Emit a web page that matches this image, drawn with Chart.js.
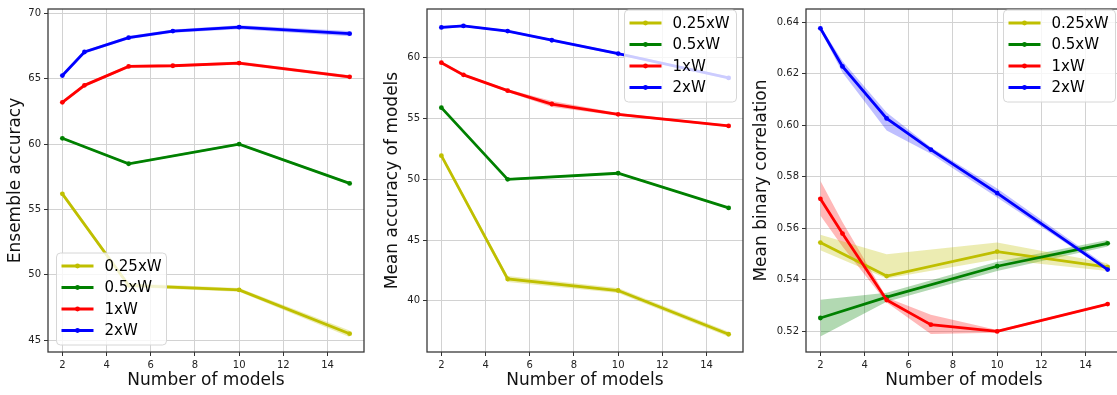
<!DOCTYPE html>
<html>
<head>
<meta charset="utf-8">
<script src="https://cdn.jsdelivr.net/npm/chart.js@4.4.1/dist/chart.umd.min.js"></script>
<style>
html,body{margin:0;padding:0;background:#fff;overflow:hidden;width:1117px;height:395px;}
canvas{position:absolute;top:0;}
</style>
</head>
<body>
<canvas id="c1" width="368" height="395" style="left:0px"></canvas>
<canvas id="c2" width="375" height="395" style="left:372px"></canvas>
<canvas id="c3" width="381" height="395" style="left:745px"></canvas>
<script>
// ---------- data ----------
const seriesNames = ['0.25xW', '0.5xW', '1xW', '2xW'];
const xTicks = [2, 4, 6, 8, 10, 12, 14];
const xFew = [2, 5, 10, 15];
const xMany = [2, 3, 5, 7, 10, 15];

// Panel 1: ensemble accuracy
const ensTicks = [45, 50, 55, 60, 65, 70];
const ens025 = [56.2, 49.2, 48.85, 45.5];
const ens05 = [60.45, 58.5, 60.0, 57.0];
const ens1 = [63.2, 64.5, 65.95, 66.0, 66.2, 65.15];
const ens2 = [65.25, 67.05, 68.15, 68.65, 68.95, 68.45];
const ens025Spread = [0.15, 0.15, 0.15, 0.25];
const ens05Spread = [0.08, 0.08, 0.08, 0.08];
const ens1Spread = [0.1, 0.1, 0.1, 0.1, 0.12, 0.12];
const ens2Spread = [0.1, 0.12, 0.12, 0.12, 0.15, 0.2];

// Panel 2: mean accuracy of models
const accTicks = [40, 45, 50, 55, 60];
const acc025 = [51.95, 41.8, 40.85, 37.25];
const acc05 = [55.9, 50.0, 50.5, 47.65];
const acc1 = [59.6, 58.6, 57.3, 56.2, 55.35, 54.4];
const acc2 = [62.5, 62.63, 62.2, 61.45, 60.35, 58.35];
const acc025Spread = [0.15, 0.25, 0.2, 0.2];
const acc05Spread = [0.08, 0.08, 0.08, 0.08];
const acc1Spread = [0.1, 0.1, 0.12, 0.25, 0.12, 0.1];
const acc2Spread = [0.12, 0.1, 0.1, 0.1, 0.12, 0.12];

// Panel 3: mean binary correlation
const corTicks = [0.52, 0.54, 0.56, 0.58, 0.60, 0.62, 0.64];
const cor025 = [0.5545, 0.5415, 0.551, 0.545];
const cor025Lo = [0.5515, 0.5405, 0.548, 0.5435];
const cor025Hi = [0.5575, 0.5500, 0.5545, 0.5465];
const cor05 = [0.5252, 0.5333, 0.5453, 0.5542];
const cor05Lo = [0.5180, 0.5315, 0.5435, 0.5530];
const cor05Hi = [0.5323, 0.5350, 0.5470, 0.5555];
const cor1 = [0.5715, 0.558, 0.5322, 0.5226, 0.5200, 0.5306];
const cor1Lo = [0.5650, 0.553, 0.5312, 0.5190, 0.5195, 0.5302];
const cor1Hi = [0.5785, 0.5625, 0.5332, 0.5265, 0.5205, 0.5310];
const cor2 = [0.6377, 0.6229, 0.6027, 0.5906, 0.5737, 0.5440];
const cor2Lo = [0.6370, 0.6205, 0.5980, 0.5890, 0.5720, 0.5435];
const cor2Hi = [0.6385, 0.6250, 0.6050, 0.5915, 0.5755, 0.5452];

// ---------- styles ----------
const lineColors = ['rgb(191,191,0)', 'rgb(0,128,0)', 'rgb(255,0,0)', 'rgb(0,0,255)'];
const bandColors = ['rgba(191,191,0,0.3)', 'rgba(0,128,0,0.3)', 'rgba(255,0,0,0.28)', 'rgba(0,0,255,0.25)'];

Chart.defaults.font.family = "'DejaVu Sans', sans-serif";
Chart.defaults.color = '#222';

const pts = (xs, ys) => xs.map((x, i) => ({x: x, y: ys[i]}));

function buildDatasets(series) {
  const lines = [];
  const bands = [];
  for (let k = series.length - 1; k >= 0; k--) {
    const s = series[k];
    lines.push({
      data: pts(s.xs, s.y), borderColor: lineColors[k], backgroundColor: lineColors[k],
      borderWidth: 2.8, pointRadius: 2.4, pointBorderWidth: 0, fill: false, tension: 0, order: 0
    });
  }
  const base = lines.length;
  series.forEach((s, k) => {
    const idx = base + bands.length;
    bands.push({
      data: pts(s.xs, s.hi), borderColor: 'rgba(0,0,0,0)', borderWidth: 0, pointRadius: 0,
      backgroundColor: bandColors[k], fill: idx + 1, tension: 0, order: 5
    });
    bands.push({
      data: pts(s.xs, s.lo), borderColor: 'rgba(0,0,0,0)', borderWidth: 0, pointRadius: 0,
      backgroundColor: bandColors[k], fill: false, tension: 0, order: 5
    });
  });
  return lines.concat(bands);
}

function spreadSeries(xs, y, sp) {
  return {xs: xs, y: y, lo: y.map((v, i) => v - sp[i]), hi: y.map((v, i) => v + sp[i])};
}

const framePlugin = {
  id: 'frame',
  afterDatasetsDraw(chart) {
    const a = chart.chartArea, ctx = chart.ctx;
    ctx.save();
    ctx.strokeStyle = '#3a3a3a';
    ctx.lineWidth = 1.3;
    ctx.strokeRect(a.left, a.top, a.right - a.left, a.bottom - a.top);
    ctx.restore();
  }
};

const legendPlugin = {
  id: 'inlegend',
  afterDraw(chart, args, opts) {
    const ctx = chart.ctx;
    const {x, y, w, h} = opts;
    ctx.save();
    const r = 4;
    ctx.beginPath();
    ctx.moveTo(x + r, y);
    ctx.arcTo(x + w, y, x + w, y + h, r);
    ctx.arcTo(x + w, y + h, x, y + h, r);
    ctx.arcTo(x, y + h, x, y, r);
    ctx.arcTo(x, y, x + w, y, r);
    ctx.closePath();
    ctx.fillStyle = 'rgba(255,255,255,0.8)';
    ctx.fill();
    ctx.strokeStyle = '#d6d6d6';
    ctx.lineWidth = 1;
    ctx.stroke();
    const rows = [13, 34.5, 56, 77.5];
    ctx.font = "15px 'DejaVu Sans', sans-serif";
    ctx.textBaseline = 'middle';
    ctx.textAlign = 'left';
    seriesNames.forEach((name, k) => {
      const cy = y + rows[k];
      ctx.strokeStyle = lineColors[k];
      ctx.lineWidth = 2.8;
      ctx.beginPath();
      ctx.moveTo(x + 5, cy);
      ctx.lineTo(x + 37, cy);
      ctx.stroke();
      ctx.fillStyle = lineColors[k];
      ctx.beginPath();
      ctx.arc(x + 21, cy, 2.4, 0, Math.PI * 2);
      ctx.fill();
      ctx.fillStyle = '#000';
      ctx.fillText(name, x + 48, cy + 1);
    });
    ctx.restore();
  }
};

function makeChart(id, cfg) {
  return new Chart(document.getElementById(id), {
    type: 'line',
    data: {datasets: buildDatasets(cfg.series)},
    plugins: [framePlugin, legendPlugin],
    options: {
      responsive: false,
      animation: false,
      devicePixelRatio: 1,
      layout: {padding: {top: 3, right: 4, left: 0, bottom: 0}},
      plugins: {
        legend: {display: false},
        tooltip: {enabled: false},
        inlegend: cfg.legend
      },
      scales: {
        x: {
          type: 'linear', min: 1.35, max: 15.65,
          afterBuildTicks: (s) => { s.ticks = xTicks.map(v => ({value: v})); },
          afterFit: (s) => { s.height = 43; },
          ticks: {font: {size: 10}, color: '#222', padding: 3, maxRotation: 0, autoSkip: false},
          grid: {color: '#d2d2d2', lineWidth: 1, tickColor: '#333', tickLength: 4, drawTicks: true},
          border: {display: false},
          title: {display: true, text: 'Number of models', font: {size: 17}, color: '#111', padding: {top: 0, bottom: 4}}
        },
        y: {
          type: 'linear', min: cfg.ymin, max: cfg.ymax,
          afterBuildTicks: (s) => { s.ticks = cfg.yTicks.map(v => ({value: v})); },
          afterFit: (s) => { s.width = cfg.yWidth; },
          ticks: {font: {size: 10}, color: '#222', padding: 3, autoSkip: false,
                  callback: (v) => cfg.fmt(v)},
          grid: {color: '#d2d2d2', lineWidth: 1, tickColor: '#333', tickLength: 4, drawTicks: true},
          border: {display: false},
          title: {display: true, text: cfg.yTitle, font: {size: 17}, color: '#111', padding: {top: cfg.yTitlePad, bottom: 0}}
        }
      }
    }
  });
}

makeChart('c1', {
  series: [spreadSeries(xFew, ens025, ens025Spread), spreadSeries(xFew, ens05, ens05Spread),
           spreadSeries(xMany, ens1, ens1Spread), spreadSeries(xMany, ens2, ens2Spread)],
  yTicks: ensTicks, ymin: 44.1, ymax: 70.34, yWidth: 48, yTitle: 'Ensemble accuracy', yTitlePad: 5,
  fmt: (v) => String(Math.round(v)),
  legend: {x: 56.5, y: 253, w: 110, h: 92}
});

makeChart('c2', {
  series: [spreadSeries(xFew, acc025, acc025Spread), spreadSeries(xFew, acc05, acc05Spread),
           spreadSeries(xMany, acc1, acc1Spread), spreadSeries(xMany, acc2, acc2Spread)],
  yTicks: accTicks, ymin: 35.79, ymax: 64.02, yWidth: 55, yTitle: 'Mean accuracy of models', yTitlePad: 10.5,
  fmt: (v) => String(Math.round(v)),
  legend: {x: 252.5, y: 10, w: 112, h: 92}
});

makeChart('c3', {
  series: [{xs: xFew, y: cor025, lo: cor025Lo, hi: cor025Hi}, {xs: xFew, y: cor05, lo: cor05Lo, hi: cor05Hi},
           {xs: xMany, y: cor1, lo: cor1Lo, hi: cor1Hi}, {xs: xMany, y: cor2, lo: cor2Lo, hi: cor2Hi}],
  yTicks: corTicks, ymin: 0.512, ymax: 0.6452, yWidth: 61, yTitle: 'Mean binary correlation', yTitlePad: 6.5,
  fmt: (v) => v.toFixed(2),
  legend: {x: 258.5, y: 10, w: 112, h: 92}
});
</script>
</body>
</html>
